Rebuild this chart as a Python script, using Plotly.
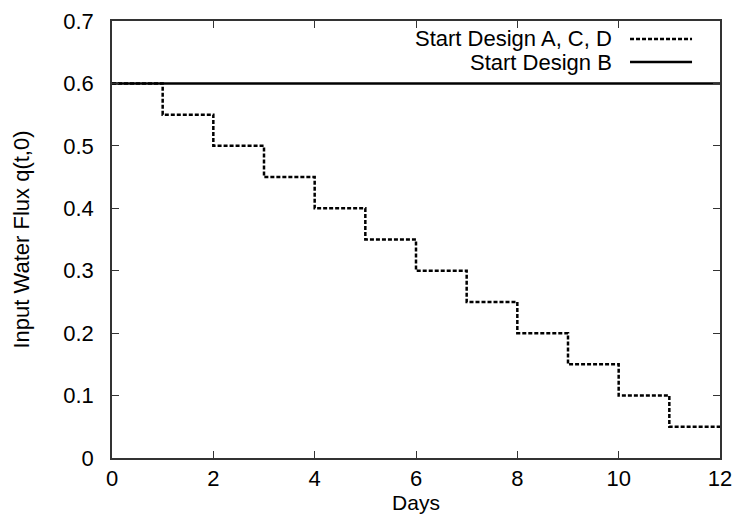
import plotly.graph_objects as go

# Input water flux schedules (piecewise constant per day)
days = [0, 1, 2, 3, 4, 5, 6, 7, 8, 9, 10, 11, 12]
flux_acd = [0.6, 0.55, 0.5, 0.45, 0.4, 0.35, 0.3, 0.25, 0.2, 0.15, 0.1, 0.05, 0.05]
flux_b = [0.6, 0.6, 0.6, 0.6, 0.6, 0.6, 0.6, 0.6, 0.6, 0.6, 0.6, 0.6, 0.6]

series_names = ["Start Design A, C, D", "Start Design B"]
x_ticks = [0, 2, 4, 6, 8, 10, 12]
y_ticks = [0, 0.1, 0.2, 0.3, 0.4, 0.5, 0.6, 0.7]
y_tick_labels = ["0", "0.1", "0.2", "0.3", "0.4", "0.5", "0.6", "0.7"]

FONT = "Liberation Sans, Arial, sans-serif"
FSIZE = 22
DASH = "4px,2px"

fig = go.Figure()
fig.add_trace(go.Scatter(
    x=days, y=flux_acd, mode="lines", line_shape="hv",
    line=dict(color="black", width=2.5, dash=DASH),
    name=series_names[0], showlegend=False,
))
fig.add_trace(go.Scatter(
    x=days, y=flux_b, mode="lines",
    line=dict(color="black", width=2.5),
    name=series_names[1], showlegend=False,
))

# Key in the top-right corner: label on the left, line sample on the right
key_rows = [(0.959, DASH), (0.906, "solid")]
for name, (yk, dash) in zip(series_names, key_rows):
    fig.add_annotation(
        x=0.826, y=yk, xref="paper", yref="paper",
        text=name, showarrow=False, xanchor="right", yanchor="middle",
        font=dict(family=FONT, size=FSIZE, color="black"),
    )
    fig.add_shape(
        type="line", xref="paper", yref="paper",
        x0=0.852, x1=0.954, y0=yk, y1=yk,
        line=dict(color="black", width=2.5, dash=dash),
    )

axis_common = dict(
    showline=True, linecolor="#333", linewidth=1.5, mirror="ticks",
    ticks="inside", ticklen=7, tickcolor="#333", tickwidth=1,
    showgrid=False, zeroline=False, automargin=False,
    tickfont=dict(family=FONT, size=FSIZE, color="black"),
)

fig.update_layout(
    width=736, height=515,
    margin=dict(l=112, r=16, t=21, b=57),
    paper_bgcolor="white", plot_bgcolor="white",
    font=dict(family=FONT, size=FSIZE, color="black"),
    xaxis=dict(
        range=[0, 12], tickvals=x_ticks, ticklabelstandoff=0,
        title=dict(text="Days", standoff=3, font=dict(family=FONT, size=21)),
        **axis_common,
    ),
    yaxis=dict(
        range=[0, 0.7], tickvals=y_ticks, ticktext=y_tick_labels,
        ticklabelstandoff=12,
        title=dict(text="Input Water Flux q(t,0)", standoff=28,
                   font=dict(family=FONT, size=FSIZE)),
        **axis_common,
    ),
)

fig.write_html("out.html")
